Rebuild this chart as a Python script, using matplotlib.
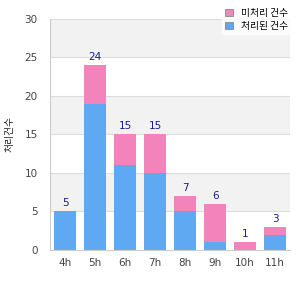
import matplotlib.pyplot as plt
import numpy as np

plt.rcParams['font.family'] = ['DejaVu Sans', 'Noto Sans CJK KR']

# 데이터
hours = ['4h', '5h', '6h', '7h', '8h', '9h', '10h', '11h']
done = [5, 19, 11, 10, 5, 1, 0, 2]
pending = [0, 5, 4, 5, 2, 5, 1, 1]
totals = [5, 24, 15, 15, 7, 6, 1, 3]

label_pending = '미처리 건수'
label_done = '처리된 건수'
ylabel = '처리건수'

fig = plt.figure(figsize=(3, 3), dpi=100)
ax = fig.add_axes([0.167, 0.167, 0.8, 0.77])

x = np.arange(len(hours))

# 배경 띠
for lo in range(0, 30, 5):
    if (lo // 5) % 2 == 1:
        ax.axhspan(lo, lo + 5, color='#f2f2f2', zorder=0, lw=0)
    ax.axhline(lo, color='#dddddd', lw=0.8, zorder=0.5)
ax.axhline(30, color='#dddddd', lw=0.8, zorder=0.5)

ax.bar(x, done, width=0.73, color='#5fa8f2', label=label_done, zorder=2)
ax.bar(x, pending, width=0.73, bottom=done, color='#f283bb', label=label_pending, zorder=2)

for i, t in enumerate(totals):
    ax.text(x[i], t + 0.4, str(t), ha='center', va='bottom', fontsize=7.5, color='#1a1a8c')

ax.set_xlim(-0.5, len(hours) - 0.5)
ax.set_ylim(0, 30)
ax.set_yticks(range(0, 31, 5))
ax.set_xticks(x)
ax.set_xticklabels(hours)
ax.tick_params(labelsize=7.5, colors='#444444', length=0, pad=6)
ax.tick_params(axis='y', pad=9)

for s in ['top', 'right']:
    ax.spines[s].set_visible(False)
for s in ['left', 'bottom']:
    ax.spines[s].set_color('#cccccc')

ax.set_ylabel(ylabel, fontsize=7, color='#222222')
ax.yaxis.set_label_coords(-0.15, 0.5)
ax.yaxis.label.set_family(['Noto Sans CJK KR', 'DejaVu Sans'])

h, l = ax.get_legend_handles_labels()
leg = fig.legend(h[::-1], l[::-1], loc='upper right', bbox_to_anchor=(0.985, 1.0),
                 frameon=True, fancybox=False, edgecolor='white',
                 handlelength=0.8, handleheight=0.8, borderpad=0.3, labelspacing=0.3,
                 prop={'family': ['Noto Sans CJK KR', 'DejaVu Sans'], 'size': 7})
for p in leg.get_patches():
    p.set_edgecolor('#888888')
    p.set_linewidth(0.6)

fig.savefig('out.png', dpi=100)
